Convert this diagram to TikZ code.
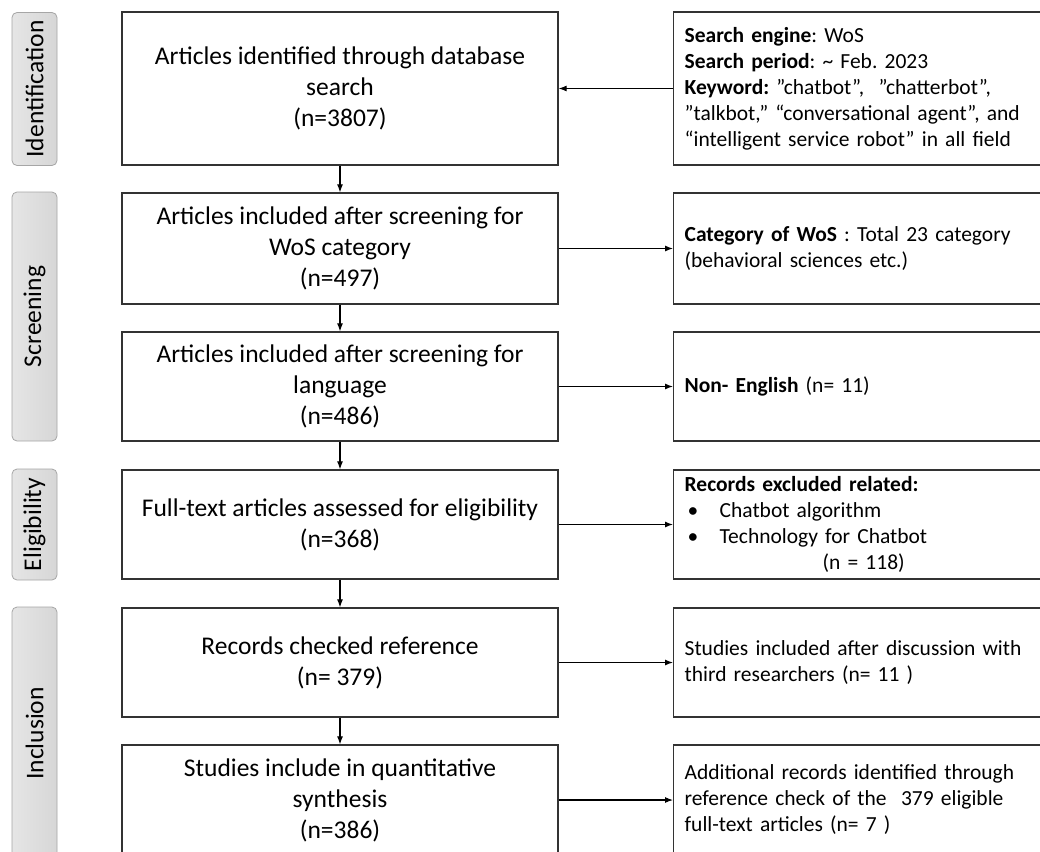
\documentclass[tikz,border=0pt]{standalone}
\usepackage{fontspec}
\setmainfont{Carlito}
\frenchspacing
\usetikzlibrary{arrows.meta}
\begin{document}
\begin{tikzpicture}[x=1pt,y=-1pt,
  box/.style={draw=black!80,line width=1.3pt,rectangle,inner sep=0pt},
  main/.style={box,minimum width=436pt,align=center,font=\fontsize{25.5}{31}\selectfont},
  side/.style={box,anchor=west,text width=360pt,inner xsep=11pt,inner ysep=0pt,align=left,font=\fontsize{21.5}{26}\selectfont\frenchspacing},
  phase/.style={draw=gray!70,line width=0.8pt,rounded corners=5pt,top color=gray!20,bottom color=gray!32,shading angle=90,minimum height=45pt,inner sep=0pt,font=\fontsize{25.5}{28}\selectfont,rotate=90},
  arr/.style={-{Latex[length=8pt,width=6pt]},line width=1.1pt}
]
\useasboundingbox (0,0) rectangle (1040,851);
\clip (0,0) rectangle (1040,851);
\fill[white] (0,0) rectangle (1040,851);

% phase labels
\node[phase,minimum width=153pt] (p1) at (34.5,89) {Identification};
\node[phase,minimum width=249pt] (p2) at (34.5,316.5) {Screening};
\node[phase,minimum width=111pt] (p3) at (34.5,524.5) {Eligibility};
\node[phase,minimum width=253pt] (p4) at (34.5,733.5) {Inclusion};

% main boxes
\node[main,minimum height=153pt] (b1) at (340,88.5) {Articles identified through database\\search\\(n=3807)};
\node[main,minimum height=111pt] (b2) at (340,248.5) {Articles included after screening for\\WoS category\\(n=497)};
\node[main,minimum height=109pt] (b3) at (340,386.5) {Articles included after screening for\\language\\(n=486)};
\node[main,minimum height=109pt] (b4) at (340,524.5) {Full-text articles assessed for eligibility\\(n=368)};
\node[main,minimum height=109pt] (b5) at (340,662.5) {Records checked reference\\(n= 379)};
\node[main,minimum height=110pt] (b6) at (340,800) {Studies include in quantitative\\synthesis\\(n=386)};

% side boxes
\node[side,minimum height=153pt] (r1) at (673,88.5) {\textbf{Search engine}: WoS\\\textbf{Search period}: \textasciitilde{} Feb. 2023\\\textbf{Keyword:} ”chatbot”,\ \ ”chatterbot”,\\”talkbot,” “conversational agent”, and\\“intelligent service robot” in all field};
\node[side,minimum height=111pt] (r2) at (673,248.5) {\textbf{Category of WoS} : Total 23 category\\(behavioral sciences etc.)};
\node[side,minimum height=109pt] (r3) at (673,386.5) {\textbf{Non- English} (n= 11)};
\node[side,minimum height=109pt] (r4) at (673,524.5) {\textbf{Records excluded related:}\\\makebox[35pt][l]{\hspace*{3pt}•}Chatbot algorithm\\\makebox[35pt][l]{\hspace*{3pt}•}Technology for Chatbot\\\hspace*{138pt}(n = 118)};
\node[side,minimum height=109pt] (r5) at (673,662.5) {Studies included after discussion with\\third researchers (n= 11 )};
\node[side,minimum height=110pt] (r6) at (673,800) {Additional records identified through\\reference check of the\ \ 379 eligible\\full-text articles (n= 7 )};

% connectors
\draw[arr] (b1) -- (b2);
\draw[arr] (b2) -- (b3);
\draw[arr] (b3) -- (b4);
\draw[arr] (b4) -- (b5);
\draw[arr] (b5) -- (b6);
\draw[arr] (r1) -- (b1);
\draw[arr] (b2) -- (r2);
\draw[arr] (b3) -- (r3);
\draw[arr] (b4) -- (r4);
\draw[arr] (b5) -- (r5);
\draw[arr] (b6) -- (r6);
\end{tikzpicture}
\end{document}
